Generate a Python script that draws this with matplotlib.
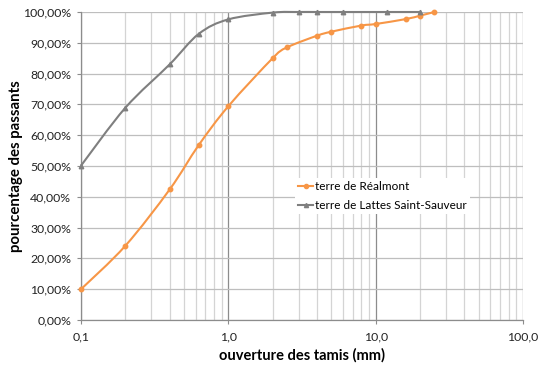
import numpy as np
import matplotlib
matplotlib.use("Agg")
import matplotlib.pyplot as plt
from matplotlib.path import Path
from matplotlib.patches import PathPatch
from matplotlib.lines import Line2D
from matplotlib.ticker import FixedLocator, FuncFormatter, LogLocator, NullFormatter

plt.rcParams['font.family'] = ['Lato', 'DejaVu Sans']

# data
realmont_x = [0.1, 0.2, 0.4, 0.63, 1.0, 2.0, 2.5, 4.0, 5.0, 8.0, 10.0, 16.0, 20.0, 25.0]
realmont_y = [10.0, 24.1, 42.4, 56.8, 69.4, 85.0, 88.5, 92.3, 93.6, 95.6, 96.1, 97.7, 98.8, 100.0]
lattes_x = [0.1, 0.2, 0.4, 0.63, 1.0, 2.0, 3.0, 4.0, 6.0, 12.0, 20.0]
lattes_y = [50.1, 68.9, 83.0, 92.9, 97.6, 99.8, 100.0, 100.0, 100.0, 100.0, 100.0]
series_names = ["terre de Réalmont", "terre de Lattes Saint-Sauveur"]
x_ticks = [0.1, 1.0, 10.0, 100.0]
x_tick_labels = ["0,1", "1,0", "10,0", "100,0"]
y_ticks = [0, 10, 20, 30, 40, 50, 60, 70, 80, 90, 100]

orange = "#F79646"
grey = "#7F7F7F"


def smooth_path(xs, ys):
    lx = np.log10(np.asarray(xs, float))
    y = np.asarray(ys, float)
    n = len(lx)
    verts = [(xs[0], y[0])]
    codes = [Path.MOVETO]
    for i in range(n - 1):
        p0 = (lx[max(i - 1, 0)], y[max(i - 1, 0)])
        p1 = (lx[i], y[i])
        p2 = (lx[i + 1], y[i + 1])
        p3 = (lx[min(i + 2, n - 1)], y[min(i + 2, n - 1)])
        c1 = (p1[0] + (p2[0] - p0[0]) / 6, p1[1] + (p2[1] - p0[1]) / 6)
        c2 = (p2[0] - (p3[0] - p1[0]) / 6, p2[1] - (p3[1] - p1[1]) / 6)
        for c in (c1, c2, p2):
            verts.append((10 ** c[0], c[1]))
            codes.append(Path.CURVE4)
    return Path(verts, codes)


fig = plt.figure(figsize=(5.41, 3.68), dpi=100)
ax = fig.add_axes([0.1497, 0.1304, 0.8170, 0.8370])
ax.set_xscale("log")
ax.set_xlim(0.1, 100)
ax.set_ylim(0, 100)

ax.xaxis.set_major_locator(FixedLocator(x_ticks))
ax.xaxis.set_major_formatter(FuncFormatter(lambda v, p: x_tick_labels[x_ticks.index(v)] if v in x_ticks else ""))
ax.xaxis.set_minor_locator(LogLocator(base=10, subs=np.arange(2, 10)))
ax.xaxis.set_minor_formatter(NullFormatter())
ax.yaxis.set_major_locator(FixedLocator(y_ticks))
ax.yaxis.set_major_formatter(FuncFormatter(lambda v, p: f"{v:.2f}".replace(".", ",") + "%"))

ax.grid(True, which="major", axis="x", color="#8C8C8C", lw=0.9)
ax.grid(True, which="minor", axis="x", color="#D4D4D4", lw=0.9)
ax.grid(True, which="major", axis="y", color="#BEBEBE", lw=0.9)
ax.set_axisbelow(True)
for s in ["top", "right"]:
    ax.spines[s].set_visible(False)
for s in ["left", "bottom"]:
    ax.spines[s].set_color("#8C8C8C")
    ax.spines[s].set_linewidth(0.9)
ax.tick_params(which="major", length=3, color="#8C8C8C", labelsize=8.8, colors="#222222")
ax.tick_params(which="minor", length=0)
ax.tick_params(axis="x", pad=5)
ax.tick_params(axis="y", pad=4)

for xs, ys, col, mk, ms in [(realmont_x, realmont_y, orange, "o", 3.2),
                            (lattes_x, lattes_y, grey, "^", 3.2)]:
    ax.add_patch(PathPatch(smooth_path(xs, ys), facecolor="none", edgecolor=col, lw=1.5,
                           transform=ax.transData, clip_on=False, zorder=3))
    ax.plot(xs, ys, ls="none", marker=mk, ms=ms, color=col, zorder=4, clip_on=False)

handles = [Line2D([], [], color=orange, lw=1.5, marker="o", ms=3),
           Line2D([], [], color=grey, lw=1.5, marker="^", ms=3)]
leg = ax.legend(handles, series_names, loc="upper left", bbox_to_anchor=(0.484, 0.46),
                frameon=True, fontsize=8.5, handlelength=1.3, handletextpad=0.15,
                borderpad=0.25, labelspacing=0.67, fancybox=False, borderaxespad=0)
leg.get_frame().set_edgecolor("none")
leg.get_frame().set_facecolor("white")
leg.get_frame().set_alpha(1)

ax.set_xlabel("ouverture des tamis (mm)", fontsize=10.5, fontweight="bold", labelpad=4)
ax.set_ylabel("pourcentage des passants", fontsize=10.8, fontweight="bold", labelpad=0)

fig.savefig("out.png", dpi=100)
